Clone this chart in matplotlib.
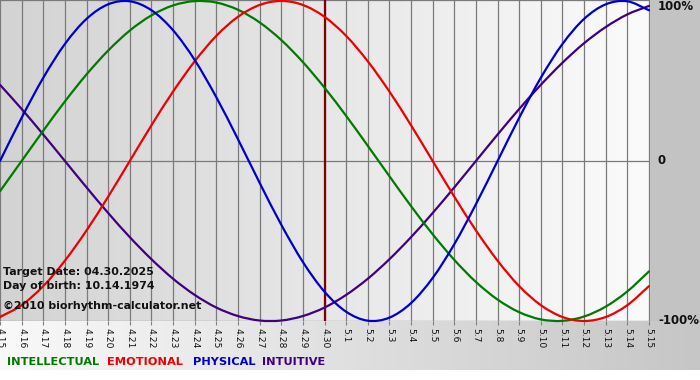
import numpy as np
import matplotlib
matplotlib.use("Agg")
import matplotlib.pyplot as plt
from matplotlib.colors import LinearSegmentedColormap
from matplotlib.path import Path
from matplotlib.patches import PathPatch

# ---- data (daily values, 4.15 .. 5.15) ----
dates = ["4.15", "4.16", "4.17", "4.18", "4.19", "4.20", "4.21", "4.22", "4.23", "4.24",
         "4.25", "4.26", "4.27", "4.28", "4.29", "4.30", "5.1", "5.2", "5.3", "5.4",
         "5.5", "5.6", "5.7", "5.8", "5.9", "5.10", "5.11", "5.12", "5.13", "5.14", "5.15"]
physical = [0.000, 0.270, 0.520, 0.731, 0.888, 0.979, 0.998, 0.942, 0.817, 0.631,
            0.398, 0.136, -0.136, -0.398, -0.631, -0.817, -0.942, -0.998, -0.979, -0.888,
            -0.731, -0.520, -0.270, 0.000, 0.270, 0.520, 0.731, 0.888, 0.979, 0.998, 0.942]
emotional = [-0.975, -0.901, -0.782, -0.623, -0.434, -0.223, 0.000, 0.223, 0.434, 0.623,
             0.782, 0.901, 0.975, 1.000, 0.975, 0.901, 0.782, 0.623, 0.434, 0.223,
             0.000, -0.223, -0.434, -0.623, -0.782, -0.901, -0.975, -1.000, -0.975, -0.901, -0.782]
intellectual = [-0.189, 0.000, 0.189, 0.372, 0.541, 0.690, 0.815, 0.910, 0.972, 0.999,
                0.990, 0.945, 0.866, 0.756, 0.618, 0.458, 0.282, 0.095, -0.095, -0.282,
                -0.458, -0.618, -0.756, -0.866, -0.945, -0.990, -0.999, -0.972, -0.910, -0.815, -0.690]
intuitive = [0.476, 0.325, 0.165, 0.000, -0.165, -0.325, -0.476, -0.614, -0.736, -0.837,
             -0.916, -0.969, -0.997, -0.997, -0.969, -0.916, -0.837, -0.736, -0.614, -0.476,
             -0.325, -0.165, 0.000, 0.165, 0.325, 0.476, 0.614, 0.736, 0.837, 0.916, 0.969]
target_index = 15
y_ticks = [1, 0, -1]
y_labels = ["100%", "0", "-100%"]
info_lines = ["Target Date: 04.30.2025", "Day of birth: 10.14.1974", "\u00a92010 biorhythm-calculator.net"]
legend_names = ["INTELLECTUAL", "EMOTIONAL", "PHYSICAL", "INTUITIVE"]

C_INT = "#007a00"
C_EMO = "#ee0000"
C_PHY = "#0000cc"
C_ITU = "#400080"

W, H = 700, 380
fig = plt.figure(figsize=(W / 100, H / 100), dpi=100)
fig.patch.set_facecolor("white")

# background axes (figure-level decoration)
bg = fig.add_axes([0, 0, 1, 1])
bg.set_xlim(0, W)
bg.set_ylim(H, 0)
bg.axis("off")
grad = np.linspace(0, 1, 256)[None, :]
cm_bot = LinearSegmentedColormap.from_list("b", ["#f9f9f9", "#c6c6c6"])
bg.imshow(grad, cmap=cm_bot, extent=[0, W, 370, 321], aspect="auto", zorder=0)
bg.add_patch(plt.Rectangle((650, 0), 50, 321, color="#c3c3c3", zorder=1, lw=0))

# plot axes
left_px, right_px, top_px, bot_px = 0, 650, 0, 321
ax = fig.add_axes([left_px / W, 1 - bot_px / H, (right_px - left_px) / W, (bot_px - top_px) / H])
n = len(dates)
x = np.arange(n)
xmax = (n - 1) * 650 / 649
ax.set_xlim(0, xmax)
ax.set_ylim(-1.0, 1.006)
cm_plot = LinearSegmentedColormap.from_list("p", ["#d3d3d3", "#fbfbfb"])
ax.imshow(grad, cmap=cm_plot, extent=[0, xmax, -1.0, 1.006], aspect="auto", zorder=0)

for xi in x:
    ax.axvline(xi, color="#7a7a7a", lw=0.9, zorder=1)
ax.axhline(0, color="#7a7a7a", lw=0.9, zorder=1)
ax.axhline(1.006, color="#7a7a7a", lw=0.9, zorder=1)
ax.axhline(-1.0, color="#7a7a7a", lw=0.9, zorder=1)

ax.axvline(target_index, color="#800000", lw=1.6, zorder=2)


def smooth_path(xs, ys):
    """Bezier path (Catmull-Rom style control points) passing through the data points."""
    xs = np.asarray(xs, float)
    ys = np.asarray(ys, float)
    px = np.concatenate([[2 * xs[0] - xs[1]], xs, [2 * xs[-1] - xs[-2]]])
    py = np.concatenate([[2 * ys[0] - ys[1]], ys, [2 * ys[-1] - ys[-2]]])
    verts = [(xs[0], ys[0])]
    codes = [Path.MOVETO]
    for i in range(1, len(px) - 2):
        c1 = (px[i] + (px[i + 1] - px[i - 1]) / 6, py[i] + (py[i + 1] - py[i - 1]) / 6)
        c2 = (px[i + 1] - (px[i + 2] - px[i]) / 6, py[i + 1] - (py[i + 2] - py[i]) / 6)
        verts += [c1, c2, (px[i + 1], py[i + 1])]
        codes += [Path.CURVE4] * 3
    return Path(verts, codes)


lw = 1.6
for series, col in [(intuitive, C_ITU), (intellectual, C_INT), (emotional, C_EMO), (physical, C_PHY)]:
    ax.add_patch(PathPatch(smooth_path(x, series), fill=False, edgecolor=col, lw=lw,
                           zorder=3, clip_on=False, capstyle="round", joinstyle="round"))

for s in ax.spines.values():
    s.set_visible(False)
ax.set_xticks(x)
ax.set_xticklabels(dates, rotation=270, fontsize=6.6, color="#111111", family="DejaVu Sans")
ax.tick_params(axis="x", length=3, width=0.8, color="#808080", pad=2)
ax.set_yticks([])

# right-hand percent labels
for yv, lab in zip(y_ticks, y_labels):
    ypos = 1 - (7 if yv == 1 else (161 if yv == 0 else 321)) / H
    fig.text(658 / W, ypos, lab, ha="left", va="center", fontsize=8.5, fontweight="bold", color="#111111")

# info text
for t, ypx in zip(info_lines, [272, 286, 306]):
    fig.text(3 / W, 1 - ypx / H, t, ha="left", va="center", fontsize=7.9, fontweight="bold",
             color="#111111", zorder=10)

# legend text
xs = [7, 107, 193, 262]
for name, xp, c in zip(legend_names, xs, [C_INT, C_EMO, C_PHY, C_ITU]):
    fig.text(xp / W, 1 - 362 / H, name, ha="left", va="center", fontsize=8.2, fontweight="bold", color=c)

fig.savefig("out.png", dpi=100)
